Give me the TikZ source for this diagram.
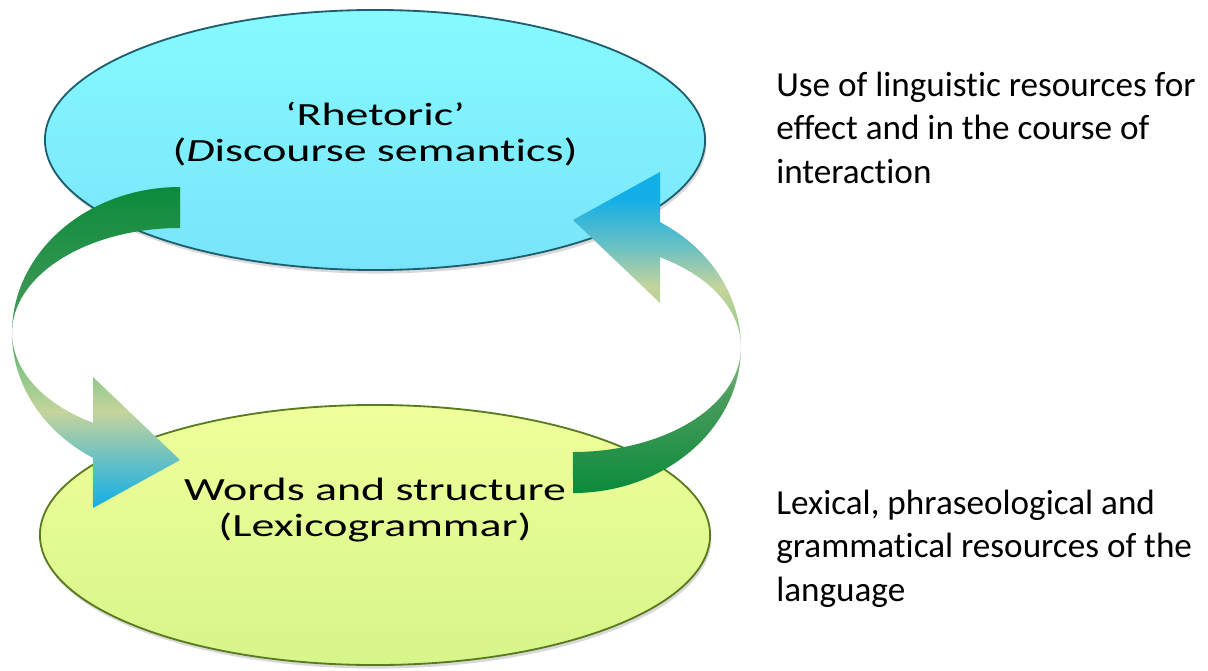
\documentclass[tikz,border=0pt]{standalone}
\usepackage{fontspec}
\setmainfont[Ligatures={TeX,NoCommon}]{Carlito}
\newfontfamily\widefont[FakeStretch=1.42,Ligatures={TeX,NoCommon}]{Carlito}
\usetikzlibrary{shapes.geometric}
\usetikzlibrary{shadows}
\definecolor{rhetfill}{RGB}{134,250,255}
\definecolor{rhetfilldown}{RGB}{120,228,250}
\definecolor{rhetedge}{RGB}{30,94,110}
\definecolor{lexgfill}{RGB}{240,255,155}
\definecolor{lexgfilldown}{RGB}{214,245,138}
\definecolor{lexgedge}{RGB}{90,122,32}
\definecolor{arrowdark}{RGB}{11,139,59}
\definecolor{arrowmid}{RGB}{74,156,92}
\definecolor{arrowlight}{RGB}{140,200,136}
\definecolor{arrowpale}{RGB}{196,212,156}
\definecolor{arrowteal}{RGB}{98,191,198}
\definecolor{arrowblue}{RGB}{18,174,232}
\pgfdeclareverticalshading{downarrow}{100bp}{color(0bp)=(arrowblue); color(25bp)=(arrowblue); color(32bp)=(arrowteal); color(40bp)=(arrowpale); color(46bp)=(arrowlight); color(52bp)=(arrowmid); color(75bp)=(arrowdark); color(100bp)=(arrowdark)}
\pgfdeclareverticalshading{uparrow}{100bp}{color(0bp)=(arrowdark); color(25bp)=(arrowdark); color(40bp)=(arrowmid); color(48bp)=(arrowlight); color(57bp)=(arrowpale); color(64bp)=(arrowteal); color(71bp)=(arrowblue); color(100bp)=(arrowblue)}

\begin{document}
\begin{tikzpicture}[line cap=round,line join=round,x=0.025cm,y=-0.025cm,
  bubble/.style={ellipse, minimum width=16.5cm, minimum height=6.5cm, line width=1.3pt,
    drop shadow={opacity=0.3, shadow xshift=1pt, shadow yshift=-2.5pt}},
  bubbletext/.style={anchor=base, align=center, font=\widefont\fontsize{23}{25.6}\selectfont},
  note/.style={anchor=base west, align=left, inner sep=0pt, font=\fontsize{25}{30.6}\selectfont}]
\useasboundingbox (0,0) rectangle (1208,670);
\node [bubble, draw=rhetedge, top color=rhetfill, bottom color=rhetfilldown] (rhet) at (375,140) {};
\node [bubble, draw=lexgedge, top color=lexgfill, bottom color=lexgfilldown, minimum width=16.75cm] (lexg) at (375,535) {};
\node [bubbletext] (rhettxt) at (375,161) {‘Rhetoric’\\(\textit{D}iscourse semantics)};
\node [bubbletext] (lexgtxt) at (375,536) {Words and structure\\(Lexicogrammar)};
\node [note] (rhetnote) at (776,183) {Use of linguistic resources for\\effect and in the course of\\interaction};
\node [note] (lexgnote) at (776,601) {Lexical, phraseological and\\grammatical resources of the\\language};

% curved arrows
\shade [shading=downarrow] (180,187) arc[start angle=270, end angle=121.2, x radius=168, y radius=146]
  -- (93,508) -- (180,460) -- (93,377) -- (93,422.8)
  arc[start angle=121.2, end angle=270, x radius=168, y radius=105] -- cycle;
\shade [shading=uparrow] (573,493) arc[start angle=90, end angle=-58.8, x radius=168, y radius=146]
  -- (660,172) -- (573,220) -- (660,303) -- (660,257.2)
  arc[start angle=-58.8, end angle=90, x radius=168, y radius=105] -- cycle;
\end{tikzpicture}
\end{document}
